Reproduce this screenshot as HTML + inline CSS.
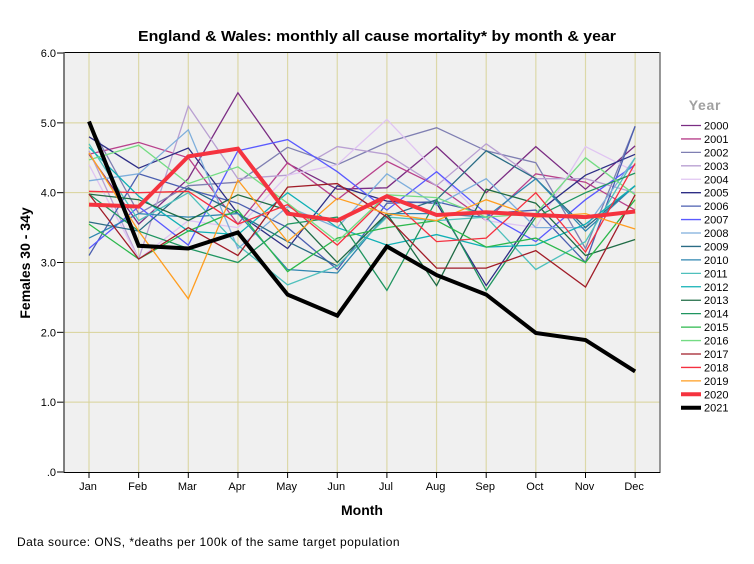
<!DOCTYPE html>
<html>
<head>
<meta charset="utf-8">
<title>England &amp; Wales monthly all cause mortality</title>
<style>
html,body{margin:0;padding:0;background:#fff;width:754px;height:564px;overflow:hidden}
svg{display:block}
text{font-family:"Liberation Sans",Arial,sans-serif;fill:#000}
</style>
</head>
<body>
<svg id="chart" width="754" height="564" viewBox="0 0 754 564" xmlns="http://www.w3.org/2000/svg">
<rect x="0" y="0" width="754" height="564" fill="#ffffff"/>
<rect x="64" y="53" width="596" height="419" fill="#f0f0f0"/>
<g id="grid"></g>
<g id="series"></g>
<g id="axes"></g>
<g id="legend"></g>
<text x="377" y="41" text-anchor="middle" font-size="14.5" font-weight="bold" textLength="478" lengthAdjust="spacingAndGlyphs">England &amp; Wales: monthly all cause mortality* by month &amp; year</text>
<text x="362" y="515" text-anchor="middle" font-size="14" font-weight="bold">Month</text>
<text transform="translate(30 263) rotate(-90)" text-anchor="middle" font-size="14" font-weight="bold">Females 30 - 34y</text>
<text x="705" y="110" text-anchor="middle" font-size="14" font-weight="bold" letter-spacing="0.7" style="fill:#a0a0a0">Year</text>
<text x="17" y="546" font-size="12" letter-spacing="0.46">Data source: ONS, *deaths per 100k of the same target population</text>
</svg>
<script>
var months = ["Jan","Feb","Mar","Apr","May","Jun","Jul","Aug","Sep","Oct","Nov","Dec"];
var yTicks = [0,1,2,3,4,5,6];
var yTickLabels = [".0","1.0","2.0","3.0","4.0","5.0","6.0"];
var years = ["2000","2001","2002","2003","2004","2005","2006","2007","2008","2009","2010","2011","2012","2013","2014","2015","2016","2017","2018","2019","2020","2021"];

var y2000 = [4.55,3.55,4.2,5.43,4.42,4.05,4.07,4.66,4.0,4.66,4.05,4.67];
var y2001 = [4.55,4.72,4.5,3.55,4.43,3.9,4.45,4.1,3.6,4.27,4.15,3.75];
var y2002 = [5.0,3.7,4.1,4.15,4.65,4.4,4.72,4.93,4.6,4.43,3.2,4.95];
var y2003 = [4.6,3.05,5.24,4.2,4.25,4.66,4.55,4.1,4.7,4.2,4.2,4.0];
var y2004 = [4.4,3.05,3.6,3.5,4.25,4.4,5.05,4.3,3.6,3.5,4.66,4.3];
var y2005 = [4.8,4.35,4.64,3.7,3.2,4.1,3.88,3.85,2.67,3.7,4.25,4.55];
var y2006 = [3.1,4.27,4.05,3.85,3.5,2.9,3.85,3.87,3.7,3.75,3.0,4.95];
var y2007 = [3.2,3.8,3.25,4.6,4.76,4.3,3.75,4.3,3.7,3.3,3.9,4.4];
var y2008 = [4.17,4.27,4.9,3.2,3.8,3.5,4.27,3.82,4.2,3.5,3.5,4.5];
var y2009 = [3.58,3.45,4.07,3.7,3.3,2.95,3.66,3.9,4.6,4.2,3.5,4.1];
var y2010 = [3.35,3.7,3.65,3.7,2.9,2.85,3.7,3.7,3.65,4.2,3.45,4.1];
var y2011 = [4.7,3.6,4.0,3.25,2.68,2.95,3.65,3.6,3.65,2.9,3.3,4.5];
var y2012 = [4.65,3.95,3.45,3.4,4.0,3.5,3.25,3.4,3.22,3.25,3.55,4.1];
var y2013 = [3.98,3.9,3.6,3.97,3.75,3.0,3.7,2.67,4.05,3.85,3.1,3.33];
var y2014 = [3.98,3.45,3.2,3.0,3.55,3.65,2.6,3.9,2.6,3.65,4.0,4.28];
var y2015 = [3.55,3.05,3.45,3.75,2.87,3.35,3.5,3.6,3.22,3.35,3.0,3.9];
var y2016 = [4.47,4.68,4.13,4.37,3.85,3.3,3.97,3.93,3.65,3.7,4.5,3.97];
var y2017 = [3.98,3.05,3.5,3.1,4.08,4.13,3.65,2.92,2.92,3.17,2.65,3.97];
var y2018 = [4.02,4.0,4.02,3.55,3.83,3.25,3.95,3.3,3.35,4.0,3.15,4.42];
var y2019 = [4.57,3.45,2.48,4.18,3.3,3.92,3.7,3.6,3.9,3.65,3.7,3.48];
var y2020 = [3.83,3.8,4.52,4.63,3.7,3.6,3.95,3.68,3.72,3.68,3.65,3.73];
var y2021 = [5.02,3.24,3.2,3.43,2.54,2.24,3.23,2.82,2.54,1.99,1.89,1.44];

var seriesValues = [y2000,y2001,y2002,y2003,y2004,y2005,y2006,y2007,y2008,y2009,y2010,y2011,y2012,y2013,y2014,y2015,y2016,y2017,y2018,y2019,y2020,y2021];
var seriesColors = ["#7b2d83","#b8418c","#7f7fb2","#b9a0d2","#e0c4f2","#2e2e85","#4b5fb0","#5a5aff","#7eaedc","#2a6c85","#2f86b0","#4fc0bc","#10b0b5","#1f6b45","#1f9560","#2cb84c","#74dc84","#a01c28","#f53040","#ff9d20","#f5333f","#000000"];
var seriesWidths = [1.3,1.3,1.3,1.3,1.3,1.3,1.3,1.3,1.3,1.3,1.3,1.3,1.3,1.3,1.3,1.3,1.3,1.3,1.3,1.3,4,4];

var NS = "http://www.w3.org/2000/svg";
function xScale(i) { return 89 + i * 49.65; }
function yScale(v) { return 472 - v * 69.83; }
function make(tag, attrs) {
  var el = document.createElementNS(NS, tag);
  for (var k in attrs) { el.setAttribute(k, attrs[k]); }
  return el;
}

var grid = document.getElementById("grid");
var axes = document.getElementById("axes");
var seriesGroup = document.getElementById("series");
var legend = document.getElementById("legend");

months.forEach(function (m, i) {
  var x = xScale(i);
  var g = make("line", {x1: x, x2: x, y1: 53, y2: 472, stroke: "#dcd8a8", "stroke-width": 1.2});
  
  
  grid.appendChild(g);
  var t = make("line", {x1: x, x2: x, y1: 472, y2: 478, stroke: "#000", "stroke-width": 1});
  
  
  axes.appendChild(t);
  var l = make("text", {x: x - 1, y: 490, "text-anchor": "middle", "font-size": 11});
  
  
  l.textContent = m;
  axes.appendChild(l);
});

yTicks.forEach(function (v, i) {
  var y = yScale(v);
  if (v > 0 && v < 6) {
    var g = make("line", {x1: 64, x2: 660, y1: y, y2: y, stroke: "#d8d298", "stroke-width": 1});
    
    
    grid.appendChild(g);
  }
  var t = make("line", {x1: 57, x2: 64, y1: y, y2: y, stroke: "#000", "stroke-width": 1});
  
  
  axes.appendChild(t);
  var l = make("text", {x: 56, y: y + 4, "text-anchor": "end", "font-size": 11});
  
  
  l.textContent = yTickLabels[i];
  axes.appendChild(l);
});

var topEdge = make("line", {x1: 64, x2: 660, y1: 52.5, y2: 52.5, stroke: "#000", "stroke-width": 1});


axes.appendChild(topEdge);
var rightEdge = make("line", {x1: 660, x2: 660, y1: 52, y2: 473, stroke: "#777", "stroke-width": 1.5});


axes.appendChild(rightEdge);
var yAxisLine = make("line", {x1: 64, x2: 64, y1: 52, y2: 473, stroke: "#555", "stroke-width": 1.5});


axes.appendChild(yAxisLine);
var xAxisLine = make("line", {x1: 64, x2: 660, y1: 472.5, y2: 472.5, stroke: "#000", "stroke-width": 1});


axes.appendChild(xAxisLine);

years.forEach(function (yr, s) {
  var pts = seriesValues[s].map(function (v, i) { return xScale(i).toFixed(1) + "," + yScale(v).toFixed(1); }).join(" ");
  var p = make("polyline", {points: pts, fill: "none", stroke: seriesColors[s], "stroke-width": seriesWidths[s], "stroke-linejoin": "miter"});
  
  
  seriesGroup.appendChild(p);

  var ly = 125.5 + s * 13.44;
  var sw = make("line", {x1: 681, x2: 701, y1: ly, y2: ly, stroke: seriesColors[s], "stroke-width": seriesWidths[s]});
  
  
  legend.appendChild(sw);
  var lt = make("text", {x: 704, y: ly + 4, "font-size": 11});
  
  
  lt.textContent = yr;
  legend.appendChild(lt);
});
</script>
</body>
</html>
